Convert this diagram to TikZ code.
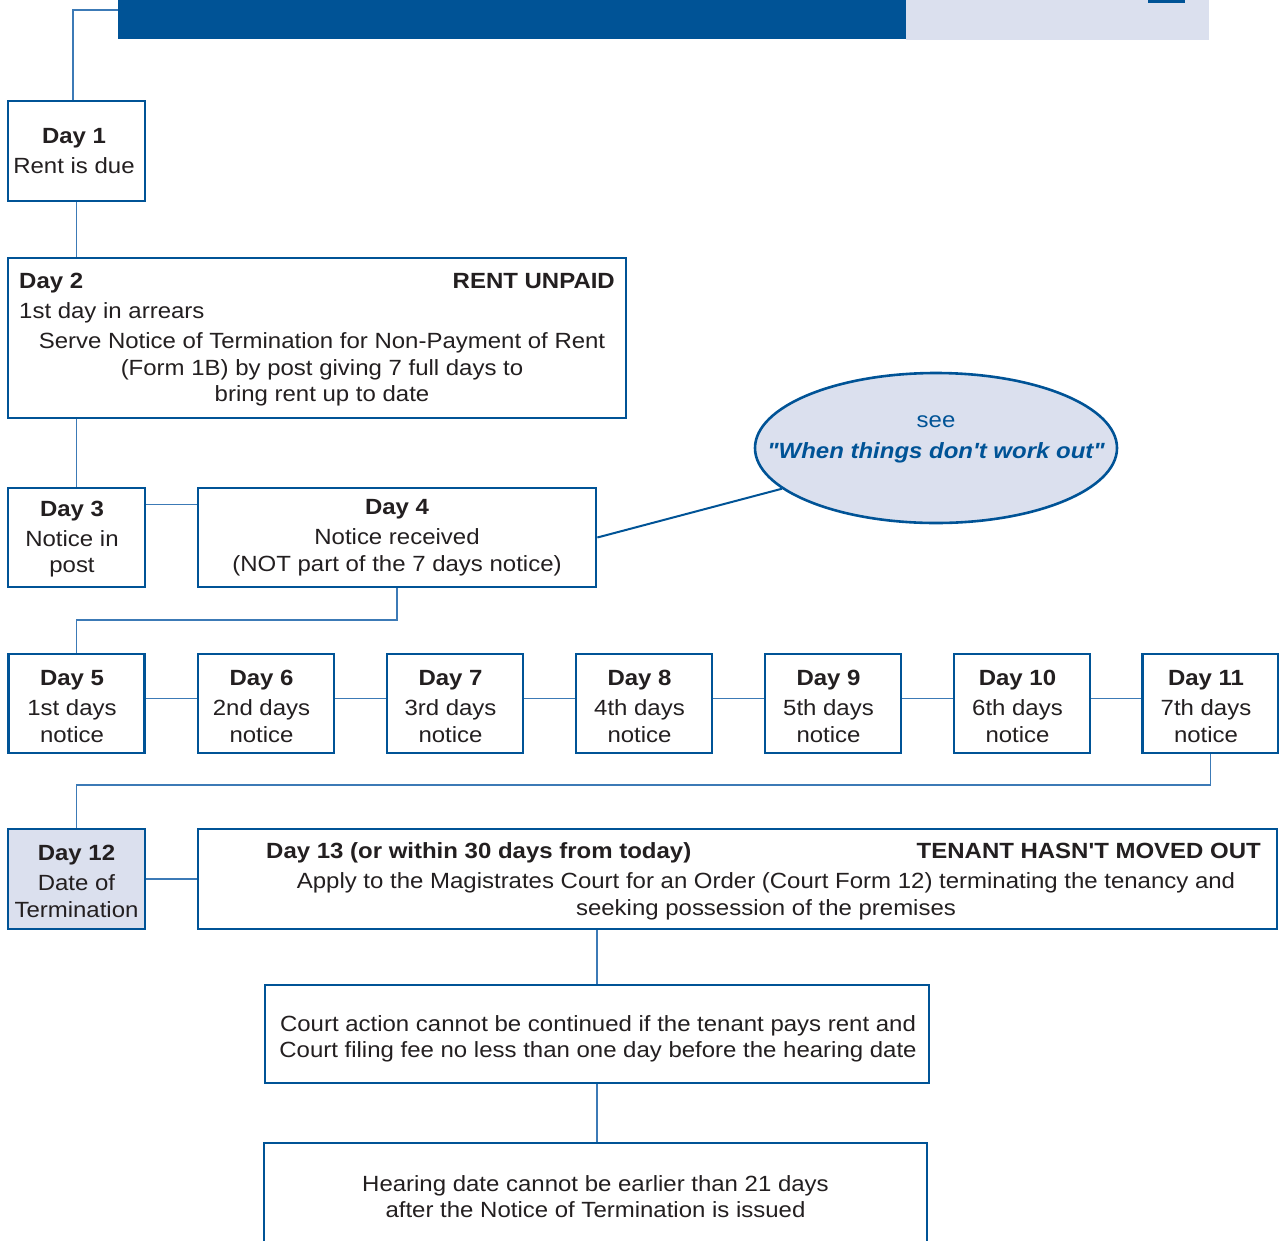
\documentclass[tikz,border=0pt]{standalone}
\usepackage{fontspec}
\setmainfont{Liberation Sans}[FakeStretch=1.09,Ligatures=TeXOff]
\usetikzlibrary{shapes.geometric}
\definecolor{dblue}{RGB}{0,83,150}
\definecolor{cblue}{RGB}{60,122,182}
\definecolor{lblue}{RGB}{219,224,238}
\definecolor{txt}{RGB}{35,31,32}
\begin{document}
\begin{tikzpicture}[x=1pt,y=-1pt,
  box/.style={draw=dblue,line width=2.7pt,fill=white,inner sep=0pt,align=center,text=txt,
    font=\fontsize{22}{26.5}\selectfont},
  txtn/.style={inner sep=0pt,text=txt,font=\fontsize{22}{26.5}\selectfont,align=center},
  conn/.style={draw=cblue,line width=1.5pt},
  hd/.style={font=\fontsize{22}{26.5}\selectfont\bfseries}]
\useasboundingbox (0,0) rectangle (1279,1240);
% header
\node[fill=lblue,inner sep=0pt,minimum width=303pt,minimum height=40pt] (hdl) at (1057.5,20) {};
\node[fill=dblue,inner sep=0pt,minimum width=788pt,minimum height=39pt] (hdr) at (512,19.5) {};
\node[fill=dblue,inner sep=0pt,minimum width=37pt,minimum height=3pt] (hds) at (1166.5,1.5) {};
\coordinate (h1) at (118,10);
\coordinate (h2) at (73,10);
% Day 1
\node[box,minimum width=137pt,minimum height=100pt] (d1) at (76.5,151) {};
\node[txtn] (d1t) at (74,151) {{\bfseries Day 1}\\[3.5pt]Rent is due};
% Day 2
\node[box,minimum width=618pt,minimum height=160pt] (d2) at (317,338) {};
\node[txtn,anchor=base west,hd] (d2a) at (19,288) {Day 2};
\node[txtn,anchor=base east,hd] (d2b) at (615,288) {RENT UNPAID};
\node[txtn,anchor=base west] (d2c) at (19,318) {1st day in arrears};
\node[txtn] (d2d) at (322,369.5) {Serve Notice of Termination for Non-Payment of Rent\\(Form 1B) by post giving 7 full days to\\bring rent up to date};
% Day 3, Day 4
\node[box,minimum width=137pt,minimum height=99pt] (d3) at (76.5,537.5) {};
\node[txtn] (d3t) at (72,539) {{\bfseries Day 3}\\[3.5pt]Notice in\\post};
\node[box,minimum width=398pt,minimum height=99pt] (d4) at (397,537.5)
  {{\bfseries Day 4}\\[3.5pt]Notice received\\(NOT part of the 7 days notice)};
% ellipse
\node[ellipse,draw=dblue,line width=2.6pt,fill=lblue,inner sep=0pt,minimum width=362pt,minimum height=150pt] (ell) at (936,448) {};
\node[inner sep=0pt,align=center,text=dblue,font=\fontsize{22}{31}\selectfont] (ellt) at (936,439.5)
  {see\\{\bfseries\itshape "When things don't work out"}};
% Days 5-11
\foreach \n/\x/\a in {5/76.5/1st,6/266/2nd,7/455/3rd,8/644/4th,9/833/5th,10/1022/6th,11/1210.5/7th}{
  \node[box,minimum width=136pt,minimum height=99pt] (d\n) at (\x,703.5) {};
  \node[txtn] (d\n t) at (\x-4.5,706.5) {{\bfseries Day \n}\\[3.5pt]\a\ days\\notice};
}
% Day 12, Day 13
\node[box,fill=lblue,minimum width=137pt,minimum height=100pt] (d12) at (76.5,879) {};
\node[txtn] (d12t) at (76.5,881.5) {{\bfseries Day 12}\\[3.5pt]Date of\\Termination};
\node[box,minimum width=1079pt,minimum height=100pt] (d13) at (737.5,879) {};
\node[txtn,anchor=base west,hd] (d13a) at (266,858) {Day 13 (or within 30 days from today)};
\node[txtn,anchor=base east,hd] (d13b) at (1261,858) {TENANT HASN'T MOVED OUT};
\node[txtn] (d13c) at (766,896.5) {Apply to the Magistrates Court for an Order (Court Form 12) terminating the tenancy and\\seeking possession of the premises};
% lower boxes
\node[box,minimum width=664pt,minimum height=98pt] (crt) at (597,1034) {};
\node[txtn] (crtt) at (598,1039) {Court action cannot be continued if the tenant pays rent and\\Court filing fee no less than one day before the hearing date};
\node[box,minimum width=663pt,minimum height=107pt] (hr) at (595.5,1196.5)
  {Hearing date cannot be earlier than 21 days\\after the Notice of Termination is issued};
% connectors
\draw[conn] (h1) -- (h2) -- (h2 |- d1.north);
\draw[conn] (d1.south) -- (d1.south |- d2.north);
\draw[conn] (d3.north |- d2.south) -- (d3.north);
\draw[conn] ([yshift=-18pt]d3.north east) -- ([yshift=-18pt]d4.north west);
\draw[dblue,line width=2pt] (d4.east) -- (ell);
\coordinate (j1) at (76.5,620);
\draw[conn] (d4.south) |- (j1) -- (d5.north);
\foreach \a/\b in {5/6,6/7,7/8,8/9,9/10,10/11}{
  \draw[conn] ([yshift=5pt]d\a.east) -- ([yshift=5pt]d\b.west);
}
\coordinate (j2) at (76.5,785);
\draw[conn] (d11.south) |- (j2) -- (d12.north);
\draw[conn] (d12.east) -- (d13.west);
\draw[conn] (crt.north |- d13.south) -- (crt.north);
\draw[conn] (crt.south) -- (crt.south |- hr.north);
\end{tikzpicture}
\end{document}
